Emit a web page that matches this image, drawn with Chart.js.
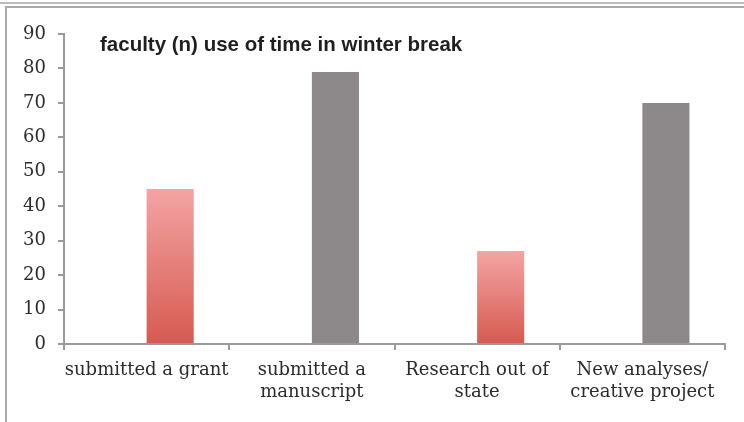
<!DOCTYPE html>
<html>
<head>
<meta charset="utf-8">
<script src="https://cdn.jsdelivr.net/npm/chart.js@4"></script>
<style>
    body { margin: 0; background: #fff; }
    #wrap { position: relative; width: 744px; height: 422px; overflow: hidden; }
    #line-top { position: absolute; left: 0; top: 2px; width: 744px; height: 2px; background: #bdbdbd; }
    #frame { position: absolute; left: 5px; top: 6px; width: 744px; height: 420px;
             border-left: 2px solid #a9a9a9; border-top: 2px solid #a9a9a9; }
    #chart-box { position: absolute; left: 0; top: 0; width: 744px; height: 422px; }
</style>
</head>
<body>
<div id="wrap">
    <div id="line-top"></div>
    <div id="frame"></div>
    <div id="chart-box"><canvas id="chart"></canvas></div>
</div>
<script>
const categories = [
    ['submitted a grant'],
    ['submitted a', 'manuscript'],
    ['Research out of', 'state'],
    ['New analyses/', 'creative project']
];
const values = [45, 79, 27, 70];
const emptySeries = [null, null, null, null];
const barKinds = ['red', 'gray', 'red', 'gray'];
const yTicks = [0, 10, 20, 30, 40, 50, 60, 70, 80, 90];
const chartTitle = 'faculty (n) use of time in winter break';

const serif = '"DejaVu Serif", "Liberation Serif", serif';
const textColor = '#2b2b2b';
const axisColor = '#9a9a9a';

function barColor(context) {
    const chart = context.chart;
    const kind = barKinds[context.dataIndex];
    if (kind === 'gray') return '#8d898a';
    if (!chart.chartArea) return '#e07b74';
    const y = chart.scales.y;
    const top = y.getPixelForValue(values[context.dataIndex]);
    const bottom = y.getPixelForValue(0);
    const g = chart.ctx.createLinearGradient(0, top, 0, bottom);
    g.addColorStop(0, '#f4a4a3');
    g.addColorStop(1, '#d65a50');
    return g;
}

const titlePlugin = {
    id: 'insideTitle',
    afterDraw(chart) {
        const ctx = chart.ctx;
        ctx.save();
        ctx.font = 'bold 20.5px "Liberation Sans", Arial, sans-serif';
        ctx.fillStyle = '#1f1f1f';
        ctx.textBaseline = 'middle';
        ctx.fillText(chartTitle, 100, 45);
        ctx.restore();
    }
};

new Chart(document.getElementById('chart'), {
    type: 'bar',
    data: {
        labels: categories,
        datasets: [
            { label: 'spacer', data: emptySeries, backgroundColor: 'rgba(0,0,0,0)' },
            { label: 'n', data: values, backgroundColor: barColor, borderWidth: 0 }
        ]
    },
    options: {
        responsive: true,
        maintainAspectRatio: false,
        animation: false,
        layout: { padding: { left: 0, top: 34, right: 19, bottom: 0 } },
        datasets: {
            bar: { categoryPercentage: 0.57, barPercentage: 1.0 }
        },
        plugins: {
            legend: { display: false },
            tooltip: { enabled: false }
        },
        scales: {
            x: {
                grid: {
                    display: true,
                    drawOnChartArea: false,
                    drawTicks: true,
                    tickLength: 6,
                    color: axisColor,
                    lineWidth: 2
                },
                border: { display: true, color: axisColor, width: 2 },
                ticks: {
                    color: textColor,
                    font: { family: serif, size: 18, lineHeight: 1.25 },
                    padding: 9,
                    maxRotation: 0,
                    autoSkip: false
                },
                afterFit(scale) { scale.height = 78; }
            },
            y: {
                min: 0,
                max: 90,
                afterBuildTicks(scale) {
                    scale.ticks = yTicks.map(v => ({ value: v }));
                },
                grid: {
                    display: true,
                    drawOnChartArea: false,
                    drawTicks: true,
                    tickLength: 6,
                    color: axisColor,
                    lineWidth: 2
                },
                border: { display: true, color: axisColor, width: 2 },
                ticks: {
                    color: textColor,
                    font: { family: serif, size: 18 },
                    padding: 12
                },
                afterFit(scale) { scale.width = 64; }
            }
        }
    },
    plugins: [titlePlugin]
});
</script>
</body>
</html>
